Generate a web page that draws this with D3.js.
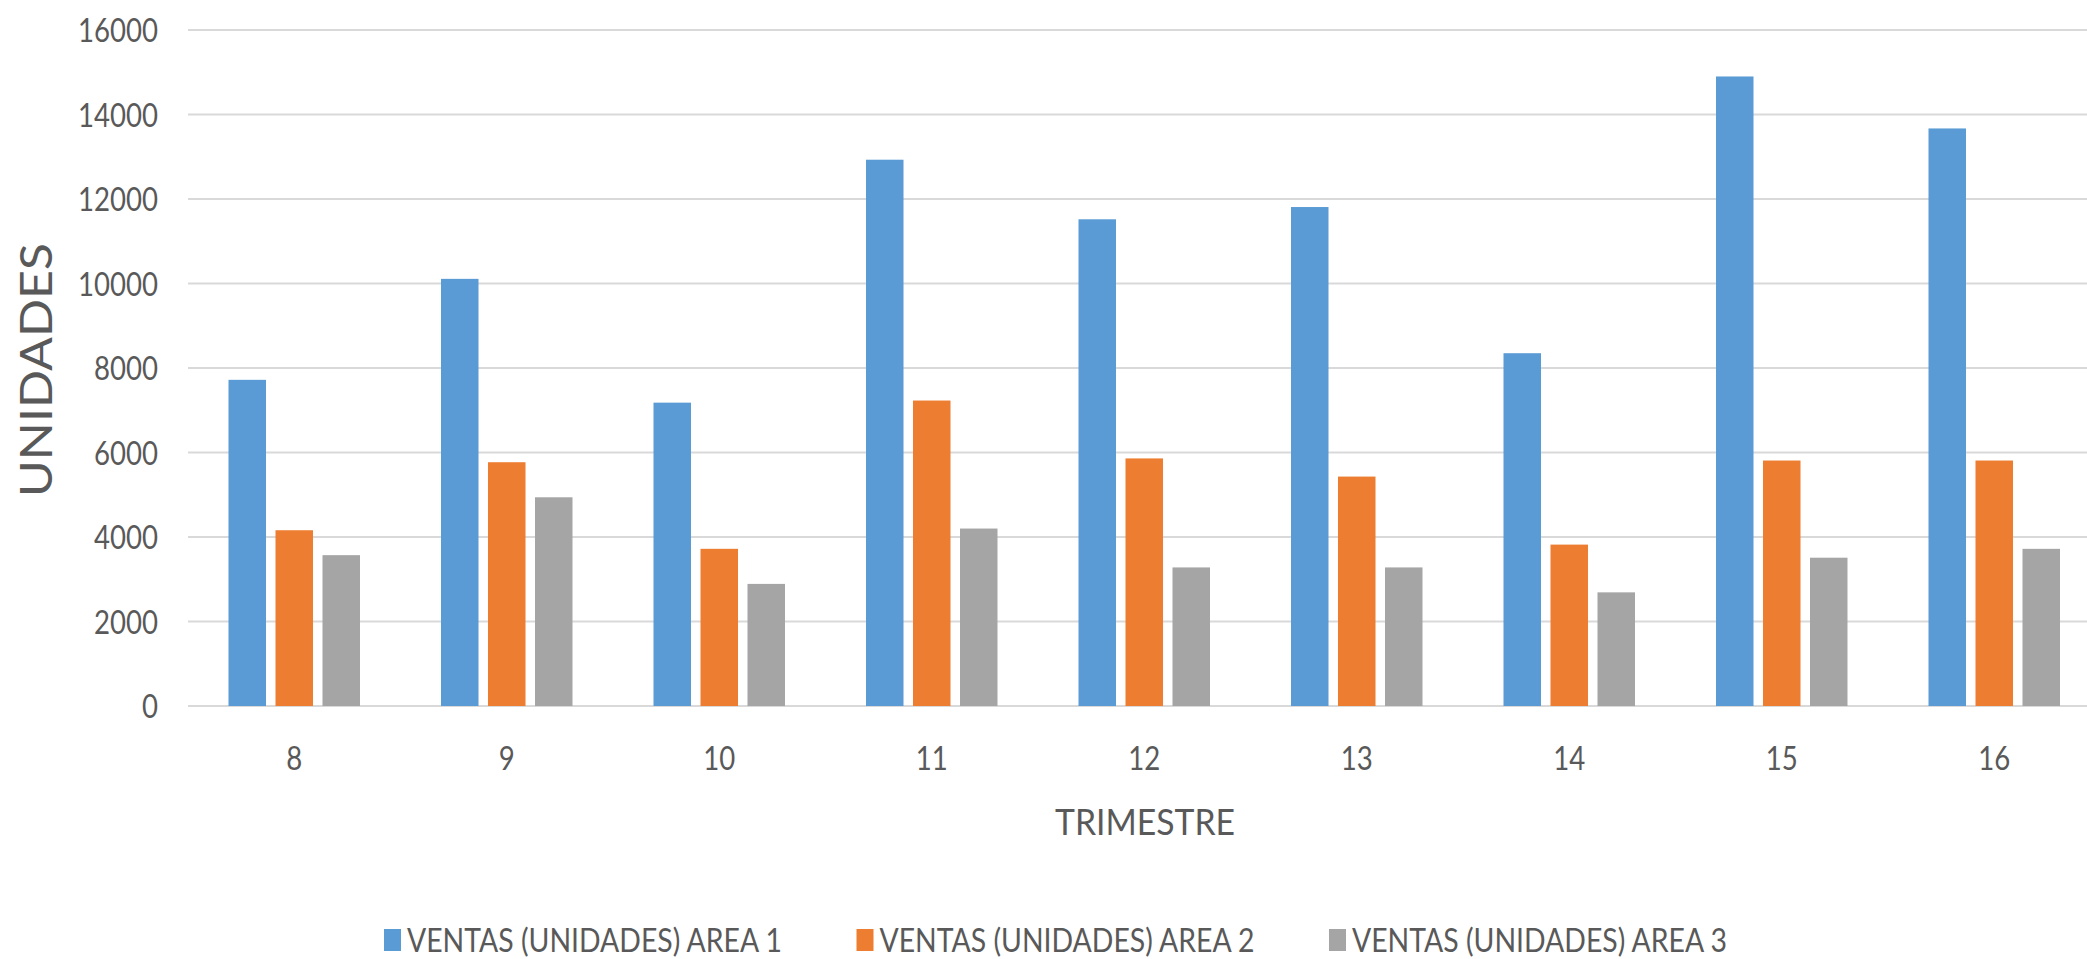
<!DOCTYPE html>
<html>
<head>
<meta charset="utf-8">
<script src="https://cdn.jsdelivr.net/npm/d3@7"></script>
<style>
  html, body { margin: 0; padding: 0; background: #ffffff; overflow: hidden; }
  svg { display: block; }
  text { font-family: Lato, "Liberation Sans", Arial, sans-serif; fill: #595959; }
</style>
</head>
<body>
<svg id="chart" width="2087" height="959"></svg>
<script>
// ---- data ----
const categories = ["8", "9", "10", "11", "12", "13", "14", "15", "16"];
const seriesNames = ["VENTAS (UNIDADES) AREA 1", "VENTAS (UNIDADES) AREA 2", "VENTAS (UNIDADES) AREA 3"];
const area1 = [7720, 10110, 7180, 12930, 11520, 11810, 8350, 14900, 13670];
const area2 = [4160, 5770, 3720, 7230, 5860, 5430, 3820, 5810, 5810];
const area3 = [3570, 4940, 2890, 4200, 3280, 3280, 2690, 3510, 3720];
const yTicks = [0, 2000, 4000, 6000, 8000, 10000, 12000, 14000, 16000];
const colors = ["#5B9BD5", "#ED7D31", "#A5A5A5"];
const seriesValues = [area1, area2, area3];

// ---- layout ----
const W = 2087, H = 959;
const plotLeft = 188, bandW = 212.5;
const plotRight = plotLeft + bandW * categories.length;
const plotTop = 30, plotBottom = 706;
const FONT = "Lato, Liberation Sans, Arial, sans-serif";

const svg = d3.select("#chart");

const x0 = d3.scaleBand().domain(categories).range([plotLeft, plotRight]).padding(0);
const x1 = d3.scaleBand().domain(d3.range(seriesNames.length))
  .range([40.5, 172]).paddingInner(0.202).paddingOuter(0);
const y = d3.scaleLinear().domain([0, 16000]).range([plotBottom, plotTop]);

// gridlines
svg.append("g").selectAll("line").data(yTicks).join("line")
  .attr("x1", plotLeft).attr("x2", plotRight)
  .attr("y1", d => y(d)).attr("y2", d => y(d))
  .attr("stroke", "#D9D9D9").attr("stroke-width", 2);

// y tick labels via axis
const yAxis = d3.axisLeft(y).tickValues(yTicks).tickSize(0).tickPadding(0).tickFormat(d3.format("d"));
const gy = svg.append("g").attr("transform", `translate(158,0)`).call(yAxis);
gy.select(".domain").remove();
gy.selectAll("text")
  .attr("font-size", 32).attr("font-family", FONT)
  .attr("fill", "#595959").attr("dy", "0.36em")
  .attr("textLength", d => String(d).length * 16).attr("lengthAdjust", "spacingAndGlyphs");

// bars
const groups = svg.append("g").selectAll("g").data(categories).join("g")
  .attr("transform", d => `translate(${x0(d)},0)`);
groups.selectAll("rect")
  .data((c, i) => seriesValues.map((s, k) => ({ k, v: s[i] })))
  .join("rect")
  .attr("x", d => x1(d.k))
  .attr("width", x1.bandwidth())
  .attr("y", d => y(d.v))
  .attr("height", d => y(0) - y(d.v))
  .attr("fill", d => colors[d.k]);

// x tick labels via axis
const xAxis = d3.axisBottom(x0).tickSize(0).tickPadding(0);
const gx = svg.append("g").attr("transform", `translate(0,${plotBottom})`).call(xAxis);
gx.select(".domain").remove();
gx.selectAll("text")
  .attr("font-size", 32).attr("font-family", FONT)
  .attr("fill", "#595959").attr("dy", null).attr("y", 64)
  .attr("textLength", d => String(d).length * 16).attr("lengthAdjust", "spacingAndGlyphs");

// axis titles
svg.append("text")
  .attr("transform", "translate(52,370) rotate(-90)")
  .attr("text-anchor", "middle")
  .attr("font-size", 44)
  .attr("textLength", 254).attr("lengthAdjust", "spacingAndGlyphs")
  .text("UNIDADES");

svg.append("text")
  .attr("x", 1145).attr("y", 835)
  .attr("text-anchor", "middle")
  .attr("font-size", 37)
  .attr("textLength", 180).attr("lengthAdjust", "spacingAndGlyphs")
  .text("TRIMESTRE");

// legend
const legend = svg.append("g").selectAll("g").data(seriesNames).join("g")
  .attr("transform", (d, i) => `translate(${384 + i * 472.5},940)`);
legend.append("rect")
  .attr("x", 0).attr("y", -11).attr("width", 17).attr("height", 22)
  .attr("fill", (d, i) => colors[i]);
legend.append("text")
  .attr("x", 23).attr("y", 12)
  .attr("font-size", 33)
  .attr("textLength", 375).attr("lengthAdjust", "spacingAndGlyphs")
  .text(d => d);
</script>
</body>
</html>
